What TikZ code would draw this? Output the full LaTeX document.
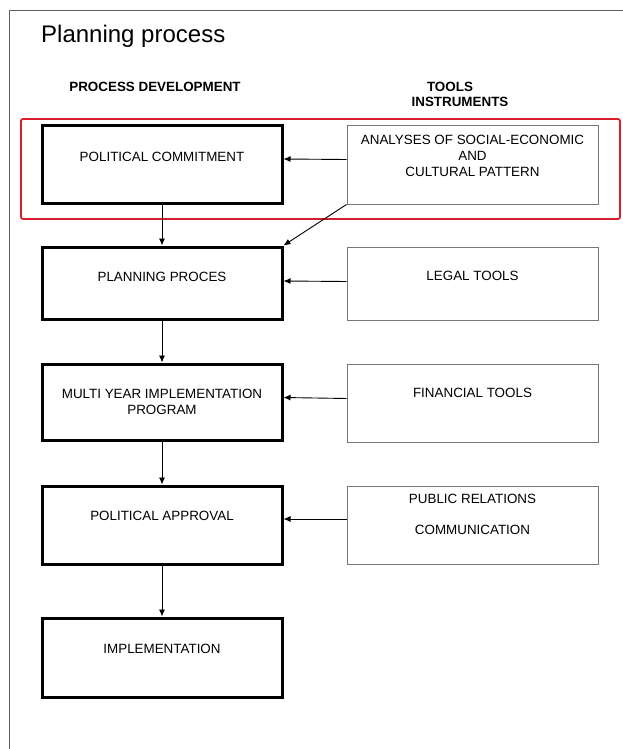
\documentclass[tikz,border=0pt]{standalone}
\usepackage{fontspec}
\setmainfont{Liberation Sans}
\usetikzlibrary{arrows.meta}

\definecolor{framegray}{RGB}{95,95,95}
\definecolor{toolgray}{RGB}{120,120,120}
\definecolor{focusred}{RGB}{215,30,45}

\tikzset{
  stage/.style={draw, line width=3pt, minimum width=240pt},
  toolbox/.style={draw=toolgray, line width=1pt, minimum width=251pt},
  boxtext/.style={font=\fontsize{13.4}{16}\selectfont, align=center, inner sep=0pt},
  head/.style={font=\fontsize{13.4}{16}\selectfont\bfseries, inner sep=0pt},
  link/.style={-{Latex[length=7pt,width=6pt]}, line width=0.9pt},
}

\begin{document}
\begin{tikzpicture}[x=1pt, y=-1pt]
        \useasboundingbox (0,0) rectangle (623,749);
        % \draw[help lines, gray!50, very thin] (0,0) grid[step=50] (623,749);

        \draw[framegray, line width=1.3pt] (9.5,749) -- (9.5,10.5) -- (623,10.5);
        \node[anchor=base west, inner sep=0pt, font=\fontsize{24}{28}\selectfont] (title) at (41,43) {Planning process};

        \node[head] (hproc) at (155,87) {PROCESS DEVELOPMENT};
        \node[head] (htools) at (450,87) {TOOLS};
        \node[head] (hinstr) at (460,102) {INSTRUMENTS};

        \draw[focusred, line width=1.8pt, rounded corners=2pt] (21,119) rectangle (620,219);

        % process column
        \node[stage, minimum height=77pt] (pc) at (162,164.5) {};
        \node[boxtext] (pctext) at (162,157) {POLITICAL COMMITMENT};

        \node[stage, minimum height=72pt] (pp) at (162,283) {};
        \node[boxtext] (pptext) at (162,277) {PLANNING PROCES};

        \node[stage, minimum height=76pt] (myip) at (162,402) {};
        \node[boxtext] (myiptext) at (162,402) {MULTI YEAR IMPLEMENTATION\\PROGRAM};

        \node[stage, minimum height=78pt] (pa) at (162,525) {};
        \node[boxtext] (patext) at (162,516) {POLITICAL APPROVAL};

        \node[stage, minimum height=79pt] (impl) at (162,657.5) {};
        \node[boxtext] (impltext) at (162,649) {IMPLEMENTATION};

        % tools column
        \node[toolbox, minimum height=78pt] (ana) at (472.5,165) {};
        \node[boxtext] (anatext) at (472.5,156) {ANALYSES OF SOCIAL-ECONOMIC\\AND\\CULTURAL PATTERN};

        \node[toolbox, minimum height=73pt] (legal) at (472.5,283.5) {};
        \node[boxtext] (legaltext) at (472.5,276) {LEGAL TOOLS};

        \node[toolbox, minimum height=78pt] (fin) at (472.5,403) {};
        \node[boxtext] (fintext) at (472.5,393) {FINANCIAL TOOLS};

        \node[toolbox, minimum height=78pt] (pr) at (472.5,525) {};
        \node[boxtext] (prtext) at (472.5,514.5) {PUBLIC RELATIONS\\[15pt]COMMUNICATION};

        \draw[link] (pc) -- (pp);
        \draw[link] (pp) -- (myip);
        \draw[link] (myip) -- (pa);
        \draw[link] (pa) -- (impl);

        \draw[link] ([yshift=5.5pt]ana.west) -- ([yshift=5.5pt]pc.east);
        \draw[link] (ana.south west) -- (pp.north east);
        \draw[link] ([yshift=2pt]legal.west) -- ([yshift=2pt]pp.east);
        \draw[link] ([yshift=4.5pt]fin.west) -- ([yshift=4.5pt]myip.east);
        \draw[link] ([yshift=6pt]pr.west) -- ([yshift=6pt]pa.east);
      \end{tikzpicture}
\end{document}
